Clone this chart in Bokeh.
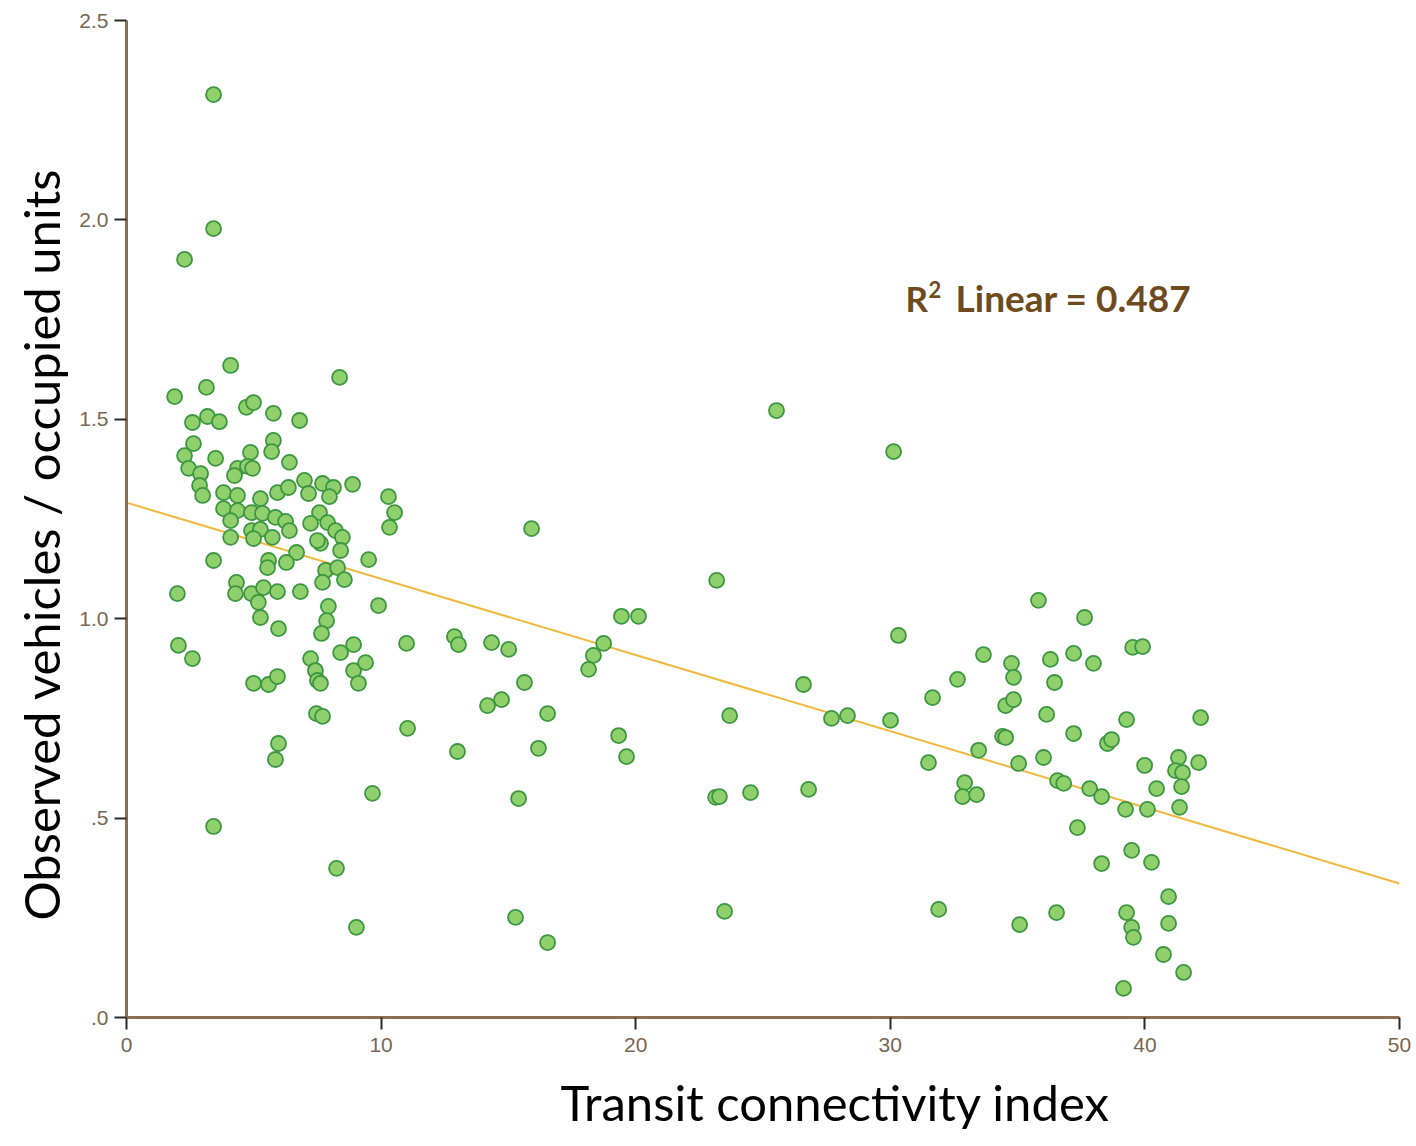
import math
from bokeh.plotting import figure
from bokeh.models import FixedTicker, Range1d, Title, Label
from bokeh.embed import file_html
from bokeh.resources import INLINE

# Transit connectivity index (x) and observed vehicles / occupied units (y)
x_vals = [
    3.42, 3.42, 2.28,
    4.09, 1.89, 3.14, 4.71, 4.99, 5.77, 6.80, 8.37, 2.59, 3.18, 3.65, 2.63, 2.28, 3.50, 4.87, 5.77,
    5.70, 6.40, 2.44, 2.91, 2.87, 2.99, 3.81, 4.36, 4.36, 4.75, 4.95, 4.24, 5.26, 5.93, 6.36, 6.99,
    7.70, 8.13, 7.97, 7.15, 8.88, 10.29, 10.53, 10.33, 3.81, 4.36, 4.91, 5.34, 5.85, 6.25, 6.40, 4.09,
    4.09, 4.91, 5.26, 4.99, 5.73, 7.58, 7.23, 7.90, 8.21, 8.48, 8.41, 7.62, 7.50, 6.68, 3.42, 5.58,
    5.54, 6.28, 9.51, 7.82, 7.70, 8.29, 8.56, 2.00, 4.32, 4.28, 4.91, 5.38, 5.93, 5.18, 6.83, 7.93,
    7.86, 7.66, 5.26, 5.97, 9.90, 2.04, 2.59, 4.99, 5.58, 5.93, 7.23, 7.42, 7.50, 7.62, 8.41, 8.92,
    8.92, 9.39, 9.11, 7.46, 7.70, 5.97, 5.85, 11.04, 9.66, 3.42, 8.25, 9.03,
    25.53, 15.91, 23.18, 19.44, 20.11, 11.00, 12.88, 13.04, 14.34, 15.01, 18.74, 18.34, 18.15, 26.59,
    15.63, 14.18, 14.73, 16.54, 23.69, 19.33, 19.64, 13.00, 16.18, 15.40, 23.14, 23.29, 24.51, 26.79,
    15.28, 23.49, 16.54, 27.69, 28.32, 30.13,
    35.82, 37.63, 30.32, 39.52, 39.91, 33.66, 36.29, 37.20, 37.98, 34.76, 34.84, 32.64, 36.45, 31.66,
    34.53, 34.84, 30.01, 36.14, 39.28, 42.19, 37.20, 34.41, 34.53, 38.53, 38.69, 33.47, 36.02, 31.50,
    35.04, 41.32, 41.20, 41.48, 42.11, 39.99, 36.57, 36.81, 37.83, 38.30, 32.92, 32.84, 33.39, 40.46,
    41.44, 39.24, 40.10, 41.36, 37.35, 39.48, 40.26, 38.30, 31.90, 35.08, 36.53, 40.93, 39.28, 39.48,
    39.55, 40.93, 40.73, 41.52, 39.16,
]
y_vals = [
    2.314, 1.978, 1.901,
    1.635, 1.557, 1.580, 1.530, 1.542, 1.515, 1.497, 1.605, 1.492, 1.507, 1.494, 1.439, 1.409, 1.402, 1.417, 1.447,
    1.419, 1.392, 1.377, 1.364, 1.334, 1.309, 1.316, 1.309, 1.377, 1.382, 1.377, 1.359, 1.301, 1.316, 1.329, 1.347,
    1.339, 1.329, 1.306, 1.314, 1.337, 1.306, 1.266, 1.229, 1.276, 1.271, 1.266, 1.264, 1.254, 1.244, 1.221, 1.246,
    1.204, 1.221, 1.224, 1.201, 1.204, 1.266, 1.239, 1.241, 1.221, 1.204, 1.171, 1.189, 1.196, 1.166, 1.146, 1.146,
    1.128, 1.141, 1.148, 1.121, 1.091, 1.128, 1.098, 1.063, 1.091, 1.063, 1.063, 1.078, 1.068, 1.041, 1.068, 1.031,
    0.995, 0.963, 1.003, 0.975, 1.033, 0.933, 0.900, 0.838, 0.835, 0.855, 0.900, 0.870, 0.845, 0.838, 0.915, 0.935,
    0.870, 0.890, 0.838, 0.762, 0.755, 0.687, 0.647, 0.725, 0.562, 0.479, 0.374, 0.226,
    1.522, 1.226, 1.096, 1.006, 1.006, 0.938, 0.955, 0.935, 0.940, 0.923, 0.938, 0.908, 0.873, 0.835,
    0.840, 0.782, 0.797, 0.762, 0.757, 0.707, 0.654, 0.667, 0.675, 0.549, 0.552, 0.554, 0.564, 0.572,
    0.251, 0.266, 0.188, 0.750, 0.757, 1.419,
    1.046, 1.003, 0.958, 0.928, 0.930, 0.910, 0.898, 0.913, 0.888, 0.888, 0.853, 0.848, 0.840, 0.802,
    0.782, 0.797, 0.745, 0.760, 0.747, 0.752, 0.712, 0.705, 0.702, 0.687, 0.697, 0.670, 0.652, 0.639,
    0.637, 0.652, 0.619, 0.614, 0.639, 0.632, 0.594, 0.587, 0.574, 0.554, 0.589, 0.554, 0.559, 0.574,
    0.579, 0.522, 0.522, 0.527, 0.476, 0.419, 0.389, 0.386, 0.271, 0.233, 0.263, 0.303, 0.263, 0.226,
    0.201, 0.236, 0.158, 0.113, 0.073,
]

# Linear fit line (end points)
fit_x = [0, 50]
fit_y = [1.291, 0.336]

x_ticks = [0, 10, 20, 30, 40, 50]
y_ticks = [0.0, 0.5, 1.0, 1.5, 2.0, 2.5]
y_tick_labels = [".0", ".5", "1.0", "1.5", "2.0", "2.5"]

r2_base = "R"
r2_sup = "2"
r2_rest = "Linear = 0.487"
x_title = "Transit connectivity index"
y_title = "Observed vehicles / occupied units"

p = figure(width=1416, height=1146, output_backend="svg", toolbar_location=None,
           x_range=Range1d(0, 50), y_range=Range1d(0, 2.5),
           min_border_left=126, min_border_right=17, min_border_top=20, min_border_bottom=129)
p.outline_line_color = None
p.xgrid.grid_line_color = None
p.ygrid.grid_line_color = None
p.background_fill_color = "white"

axis_col = "#8c6e52"
tick_col = "#2e2a26"
lab_col = "#7a6652"
for ax in (p.xaxis[0], p.yaxis[0]):
    ax.axis_line_color = axis_col
    ax.axis_line_width = 3
    ax.major_tick_line_color = tick_col
    ax.major_tick_line_width = 2
    ax.major_tick_out = 12
    ax.major_tick_in = 0
    ax.minor_tick_line_color = None
    ax.major_label_text_color = lab_col
    ax.major_label_text_font = "Liberation Sans"
    ax.major_label_text_font_size = "21px"

p.xaxis[0].ticker = FixedTicker(ticks=x_ticks)
p.yaxis[0].ticker = FixedTicker(ticks=y_ticks)
p.yaxis[0].major_label_overrides = {t: l for t, l in zip(y_ticks, y_tick_labels)}
p.xaxis[0].major_label_standoff = 8
p.yaxis[0].major_label_standoff = 6

p.line(fit_x, fit_y, line_color="#f0b83c", line_width=2)
p.scatter(x_vals, y_vals, marker="circle", size=15, fill_color="#8fd06c",
          line_color="#3c9640", line_width=1.8)

r2_style = dict(text_font="Lato", text_font_style="bold", text_color="#6e4a1c")
p.add_layout(Label(x=30.6, y=1.805, text=r2_base, text_align="left", text_baseline="middle",
                   text_font_size="35px", **r2_style))
p.add_layout(Label(x=30.6, y=1.805, x_offset=23, y_offset=8, text=r2_sup, text_align="left",
                   text_baseline="middle", text_font_size="22px", **r2_style))
p.add_layout(Label(x=30.6, y=1.805, x_offset=50, text=r2_rest, text_align="left",
                   text_baseline="middle", text_font_size="37px", **r2_style))

p.add_layout(Title(text=x_title, align="left", offset=434, standoff=32,
                   text_font="Lato", text_font_style="normal", text_font_size="49px",
                   text_color="#000000"), "below")
p.add_layout(Title(text=y_title, align="left", offset=97, standoff=14,
                   text_font="Lato", text_font_style="normal", text_font_size="49px",
                   text_color="#000000"), "left")

open("out.html", "w").write(file_html(p, INLINE))
